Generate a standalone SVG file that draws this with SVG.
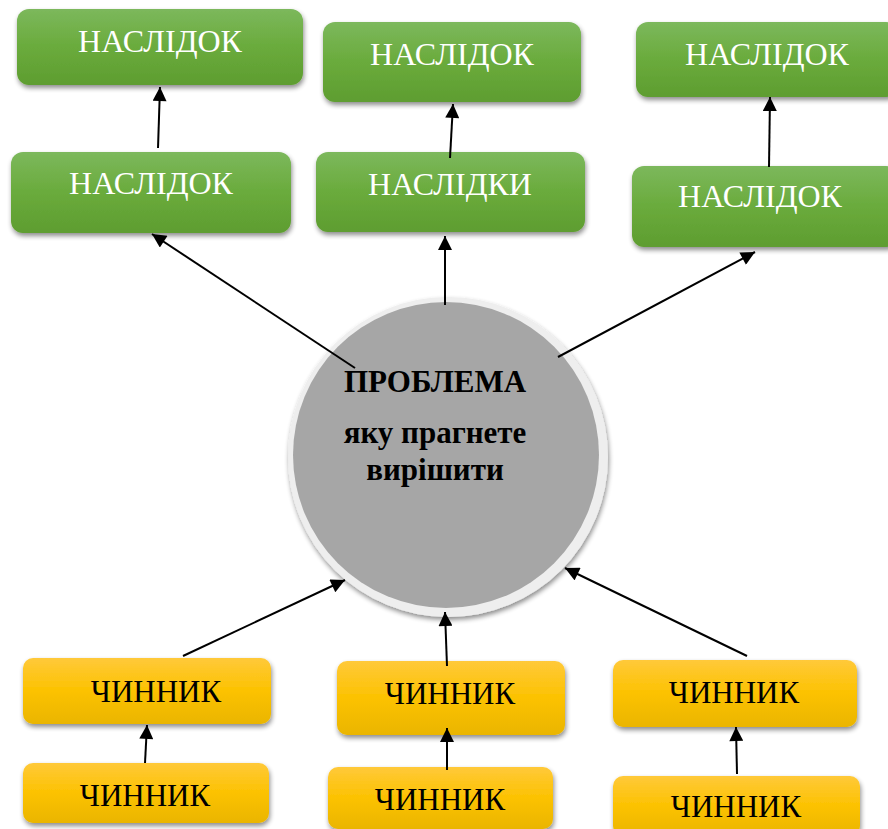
<svg xmlns="http://www.w3.org/2000/svg" width="888" height="829" viewBox="0 0 888 829">
<defs>
<linearGradient id="gG" x1="0" y1="0" x2="0" y2="1">
<stop offset="0" stop-color="#7cb85c"/><stop offset="0.5" stop-color="#6aab3c"/><stop offset="1" stop-color="#5e9d30"/>
</linearGradient>
<linearGradient id="gY" x1="0" y1="0" x2="0" y2="1">
<stop offset="0" stop-color="#ffc93a"/><stop offset="0.5" stop-color="#fcc200"/><stop offset="1" stop-color="#eab500"/>
</linearGradient>
<filter id="sh" x="-10%" y="-20%" width="120%" height="150%">
<feGaussianBlur in="SourceAlpha" stdDeviation="2.5"/>
<feOffset dx="1" dy="3" result="b"/>
<feComponentTransfer><feFuncA type="linear" slope="0.45"/></feComponentTransfer>
<feMerge><feMergeNode/><feMergeNode in="SourceGraphic"/></feMerge>
</filter>
<marker id="ah" viewBox="0 0 10 10" refX="10" refY="5" markerWidth="7.5" markerHeight="7" orient="auto" markerUnits="strokeWidth">
<path d="M0,0 L10,5 L0,10 z" fill="#000"/>
</marker>
<style>
.g{fill:url(#gG);filter:url(#sh)}
.y{fill:url(#gY);filter:url(#sh)}
.tg{font-size:32px;fill:#fff;text-anchor:middle}
.ty{font-size:31px;fill:#000;text-anchor:middle}
.tc{font-weight:bold;fill:#000;text-anchor:middle}
.c{stroke:#000;stroke-width:2;fill:none;marker-end:url(#ah)}
</style>
</defs>
<rect width="888" height="829" fill="#fff"/>
<g font-family="Liberation Serif, Times New Roman, DejaVu Serif, serif">
<g id="n1"><rect class="g" x="17" y="9" width="286" height="76" rx="12"/><text class="tg" x="160" y="52">НАСЛІДОК</text></g>
<g id="n2"><rect class="g" x="323" y="22" width="258" height="80" rx="12"/><text class="tg" x="452" y="65">НАСЛІДОК</text></g>
<g id="n3"><rect class="g" x="636" y="22" width="262" height="75" rx="12"/><text class="tg" x="767" y="65">НАСЛІДОК</text></g>
<g id="n4"><rect class="g" x="11" y="152" width="280" height="81" rx="12"/><text class="tg" x="151" y="194">НАСЛІДОК</text></g>
<g id="n5"><rect class="g" x="316" y="152" width="269" height="80" rx="12"/><text class="tg" x="450" y="195">НАСЛІДКИ</text></g>
<g id="n6"><rect class="g" x="632" y="166" width="266" height="81" rx="12"/><text class="tg" x="760" y="207">НАСЛІДОК</text></g>

<g id="problem">
<circle cx="448" cy="457" r="160" fill="#eeeeee" filter="url(#sh)"/>
<circle cx="446" cy="455" r="153" fill="#a6a6a6"/>
<text class="tc" x="435" y="392" font-size="31">ПРОБЛЕМА</text>
<text class="tc" x="435" y="443" font-size="31">яку прагнете</text>
<text class="tc" x="435" y="480" font-size="31">вирішити</text>
</g>

<g id="f1"><rect class="y" x="23" y="658" width="248" height="66" rx="10"/><text class="ty" x="156" y="702">ЧИННИК</text></g>
<g id="f2"><rect class="y" x="337" y="661" width="228" height="74" rx="10"/><text class="ty" x="450" y="704">ЧИННИК</text></g>
<g id="f3"><rect class="y" x="613" y="660" width="244" height="67" rx="10"/><text class="ty" x="734" y="703">ЧИННИК</text></g>
<g id="f4"><rect class="y" x="23" y="763" width="246" height="60" rx="10"/><text class="ty" x="145" y="806">ЧИННИК</text></g>
<g id="f5"><rect class="y" x="328" y="767" width="225" height="62" rx="10"/><text class="ty" x="440" y="810">ЧИННИК</text></g>
<g id="f6"><rect class="y" x="613" y="776" width="247" height="60" rx="10"/><text class="ty" x="736" y="817">ЧИННИК</text></g>
</g>
<g id="connectors">
<line class="c" x1="158" y1="148" x2="160" y2="87"/>
<line class="c" x1="450" y1="158" x2="453" y2="104"/>
<line class="c" x1="769" y1="167" x2="770" y2="97"/>
<line class="c" x1="355" y1="368" x2="152" y2="234"/>
<line class="c" x1="445" y1="305" x2="445" y2="236"/>
<line class="c" x1="558" y1="357" x2="755" y2="252"/>
<line class="c" x1="183" y1="656" x2="345" y2="580"/>
<line class="c" x1="447" y1="666" x2="445" y2="612"/>
<line class="c" x1="747" y1="656" x2="565" y2="568"/>
<line class="c" x1="145" y1="763" x2="147" y2="725"/>
<line class="c" x1="447" y1="770" x2="447" y2="728"/>
<line class="c" x1="737" y1="774" x2="736" y2="727"/>
</g>
</svg>
